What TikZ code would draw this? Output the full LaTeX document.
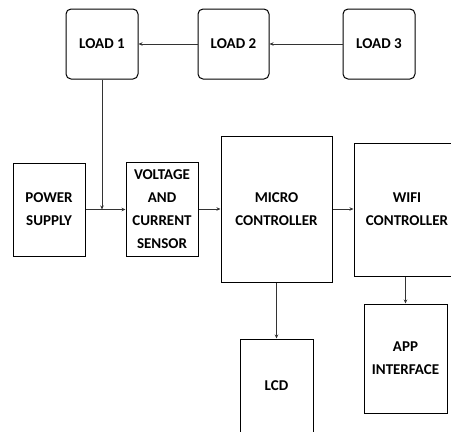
\documentclass[tikz,border=0pt]{standalone}
\usepackage{fontspec}
\setmainfont{Carlito}
\usepackage{tikz}
\usetikzlibrary{arrows.meta,positioning}

\begin{document}
\begin{tikzpicture}[
  x=1pt, y=-1pt,
  >={Stealth[length=4pt,width=3.5pt]},
  loadbox/.style={rectangle, rounded corners=5pt, draw=black, line width=1pt, minimum width=72pt, minimum height=70pt, inner sep=0pt, font=\fontsize{15}{23}\selectfont\bfseries},
  block/.style={rectangle, draw=black, line width=1pt, inner sep=0pt, align=center, font=\fontsize{15}{23}\selectfont\bfseries},
  link/.style={->, line width=0.8pt, draw=black!80}
]
  \useasboundingbox (0,0) rectangle (451,432);
  \clip (0,0) rectangle (451,432);

  % Row of loads
  \node[loadbox] (load1) at (102,44) {LOAD 1};
  \node[loadbox, right=59pt of load1, minimum width=71pt] (load2) {LOAD 2};
  \node[loadbox, right=73pt of load2] (load3) {LOAD 3};

  % Main chain
  \node[block, minimum width=72pt, minimum height=93pt] (power) at (49,209.5) {POWER\\SUPPLY};
  \node[block, minimum width=72pt, minimum height=94pt] (sensor) at (162,209) {VOLTAGE\\AND\\CURRENT\\SENSOR};
  \node[block, minimum width=111pt, minimum height=146pt] (micro) at (276.5,209) {MICRO\\CONTROLLER};
  \node[block, minimum width=106pt, minimum height=133pt] (wifi) at (407,209.5) {WIFI\\CONTROLLER};

  % Outputs
  \node[block, minimum width=73pt, minimum height=94pt] (lcd) at (276.5,386) {LCD};
  \node[block, minimum width=83pt, minimum height=109pt] (app) at (405.5,358.5) {APP\\INTERFACE};

  \coordinate (join) at (load1.south |- power.east);

  % Connectors
  \draw[link] (load3) -- (load2);
  \draw[link] (load2) -- (load1);
  \draw[link] (load1.south) -- (join);
  \draw[link] (power.east) -- (sensor.west |- power.east);
  \draw[link] (sensor) -- (micro);
  \draw[link] (micro) -- (micro -| wifi.west);
  \draw[link] (micro) -- (lcd);
  \draw[link] (wifi.south -| app.north) -- (app);
\end{tikzpicture}
\end{document}
